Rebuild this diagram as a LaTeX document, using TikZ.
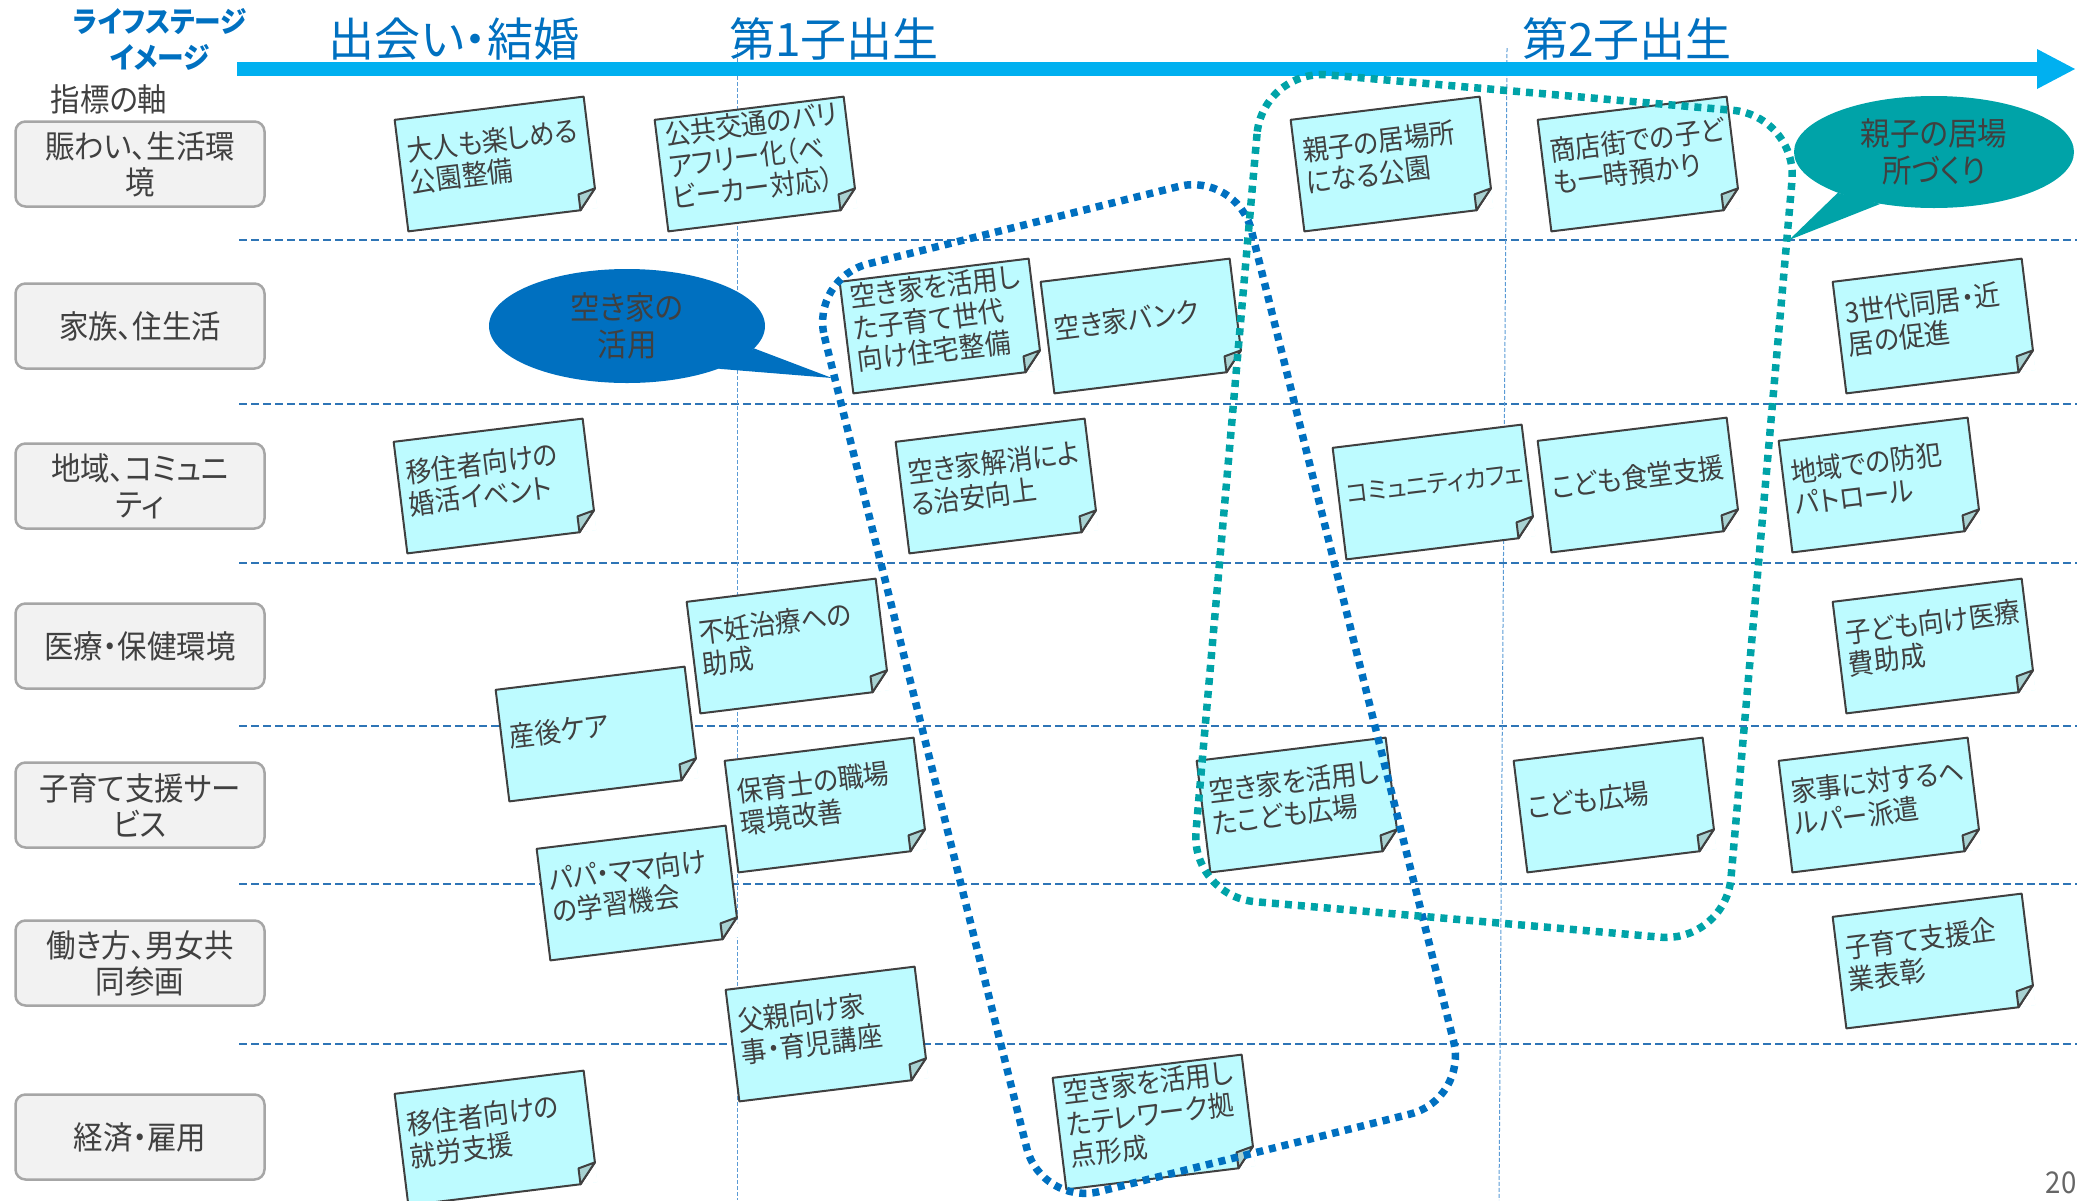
\documentclass[tikz,border=0pt]{standalone}
\usepackage{fontspec}
\setmainfont{Noto Sans CJK JP}[RawFeature=+palt, FakeStretch=0.92]
\newfontfamily\jpwide{Noto Sans CJK JP}[RawFeature=+palt]
\usepackage{xcolor}
\usepackage{tikz}
\usetikzlibrary{arrows.meta,shapes.geometric,calc}

\definecolor{hdblue}{HTML}{0070C0}
\definecolor{barblue}{HTML}{00B0F0}
\definecolor{gridblue}{HTML}{2E75B6}
\definecolor{thinblue}{HTML}{5B9BD5}
\definecolor{txtgray}{HTML}{404040}
\definecolor{boxgray}{HTML}{F2F2F2}
\definecolor{boxline}{HTML}{A6A6A6}
\definecolor{notecyan}{HTML}{BDFBFF}
\definecolor{foldgray}{HTML}{A8D2D2}
\definecolor{zoneteal}{HTML}{00A3A8}

\tikzset{
  stage/.style={text=hdblue, inner sep=0pt, font=\jpwide\fontsize{46}{46}\selectfont},
  axis/.style={rectangle, rounded corners=10pt, draw=boxline, fill=boxgray, line width=2.5pt,
    minimum width=249pt, minimum height=85pt, align=center, text=txtgray,
    font=\fontsize{32}{36}\selectfont},
  note/.style={rectangle, rotate=7, fill=notecyan, minimum width=190pt, minimum height=112pt,
    text width=174pt, inner sep=0pt, align=left, text=txtgray,
    font=\fontsize{28}{32}\selectfont, execute at end node={\par\vspace*{16pt}}},
  noteline/.style={draw=txtgray, line width=2pt, line join=round},
  bubble/.style={ellipse, inner sep=0pt, align=center, text=txtgray,
    font=\fontsize{32}{37}\selectfont},
  zone/.style={line width=7.5pt, dash pattern=on 7pt off 6pt},
  rowline/.style={draw=gridblue, line width=2.5pt, dash pattern=on 8pt off 4pt},
  stageline/.style={draw=thinblue, line width=1pt, dash pattern=on 4pt off 2pt}
}

\begin{document}
\begin{tikzpicture}[x=1pt,y=-1pt]
		\useasboundingbox (0,0) rectangle (2093,1200);
		%
		\foreach \y in {240,404,563,726,884,1044}
			\draw[rowline] (239,\y) -- (2077,\y);
		\draw[stageline] (737,52) -- (737,1200);
		\draw[stageline] (1507,48) -- (1499,1200);
		%
		\draw[barblue, line width=14pt, -{Triangle[length=38pt, width=40pt, line width=0pt]}] (237,69) -- (2075,69);
		\node[align=center, text=hdblue, font=\fontsize{29}{36}\selectfont\bfseries] (life) at (160,39) {ライフステージ\\イメージ};
		\node[stage] (meet) at (454,39) {出会い・結婚};
		\node[stage] (first) at (834,39) {第1子出生};
		\node[stage] (second) at (1627,39) {第2子出生};
		\node[text=txtgray, font=\fontsize{32}{32}\selectfont] (axes) at (109,99) {指標の軸};
		%
		\node[axis] (ax1) at (140,164) {賑わい、生活環\\境};
		\node[axis] (ax2) at (140,326) {家族、住生活};
		\node[axis] (ax3) at (140,486) {地域、コミュニ\\ティ};
		\node[axis] (ax4) at (140,646) {医療・保健環境};
		\node[axis] (ax5) at (140,805) {子育て支援サー\\ビス};
		\node[axis] (ax6) at (140,963) {働き方、男女共\\同参画};
		\node[axis] (ax7) at (140,1137) {経済・雇用};
		%
		\node[bubble, fill=hdblue, minimum width=276pt, minimum height=114pt] (akiyabub) at (627,326) {空き家の\\活用};
		\coordinate (akiyatip) at (832,378);
		\fill[hdblue] (akiyabub.-10) -- (akiyatip) -- (akiyabub.-25) -- cycle;
		\node[bubble, fill=zoneteal, minimum width=280pt, minimum height=112pt] (oyakobub) at (1934,152) {親子の居場\\所づくり};
		\coordinate (oyakotip) at (1789,240);
		\fill[zoneteal] (oyakobub.203) -- (oyakotip) -- (oyakobub.224) -- cycle;
		%
		\node[note] (s1) at (496,164) {大人も楽しめる\\公園整備};
		\node[note] (s2) at (756,164) {公共交通のバリ\\アフリー化（ベ\\ビーカー対応）};
		\node[note] (s3) at (1392,164) {親子の居場所\\になる公園};
		\node[note] (s4) at (1639,164) {商店街での子ど\\も一時預かり};
		\node[note] (s5) at (941,326) {空き家を活用し\\た子育て世代\\向け住宅整備};
		\node[note] (s6) at (1142,326) {空き家バンク};
		\node[note] (s7) at (1934,326) {3世代同居・近\\居の促進};
		\node[note] (s8) at (495,486) {移住者向けの\\婚活イベント};
		\node[note] (s9) at (997,486) {空き家解消によ\\る治安向上};
		\node[note] (s10) at (1434,492) {\fontsize{25}{32}\selectfont コミュニティカフェ};
		\node[note] (s11) at (1639,485) {こども食堂支援};
		\node[note] (s12) at (1880,485) {地域での防犯\\パトロール};
		\node[note] (s13) at (597,734) {産後ケア};
		\node[note] (s14) at (788,646) {不妊治療への\\助成};
		\node[note] (s15) at (1934,646) {子ども向け医療\\費助成};
		\node[note] (s16) at (826,805) {保育士の職場\\環境改善};
		\node[note] (s17) at (1298,805) {空き家を活用し\\たこども広場};
		\node[note] (s18) at (1615,805) {こども広場};
		\node[note] (s19) at (1880,805) {家事に対するヘ\\ルパー派遣};
		\node[note] (s20) at (638,893) {パパ・ママ向け\\の学習機会};
		\node[note] (s21) at (1934,961) {子育て支援企\\業表彰};
		\node[note] (s22) at (827,1034) {父親向け家\\事・育児講座};
		\node[note] (s23) at (496,1138) {移住者向けの\\就労支援};
		\node[note] (s24) at (1154,1122) {空き家を活用し\\たテレワーク拠\\点形成};
		%
		\foreach \i in {1,...,24}{
			\coordinate (fa) at ($(s\i.south east)!20pt!(s\i.north east)$);
			\coordinate (fb) at ($(s\i.south east)!17pt!(s\i.south west)$);
			\coordinate (fd) at ($(fb)!16pt!90:(s\i.south east)$);
			\fill[white] (fa) -- (s\i.south east) -- (fb) -- cycle;
			\draw[noteline] (s\i.north west) -- (s\i.north east) -- (fa) -- (fb) -- (s\i.south west) -- cycle;
			\filldraw[noteline, fill=foldgray] (fa) -- (fd) -- (fb) -- cycle;
		}
		%
		\draw[zone, draw=hdblue, rounded corners=60pt, rotate around={14:(1139,689)}] (919,211) rectangle (1359,1167);
		\draw[zone, draw=zoneteal, rounded corners=65pt, rotate around={-5:(1494,506)}] (1225.5,91) rectangle (1762.5,921);
		%
		\node[text=txtgray!80, font=\fontsize{30}{30}\selectfont] (page) at (2061,1183) {20};
\end{tikzpicture}
\end{document}
